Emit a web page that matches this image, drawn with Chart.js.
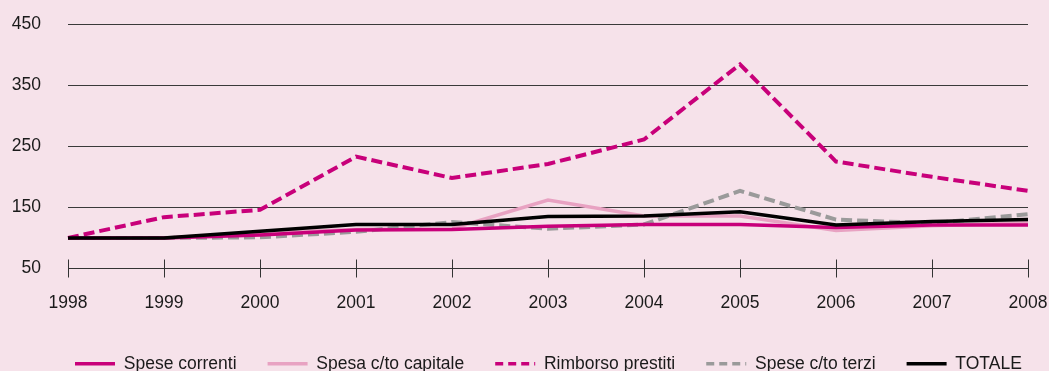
<!DOCTYPE html>
<html>
<head>
<meta charset="utf-8">
<script src="https://cdn.jsdelivr.net/npm/chart.js@4/dist/chart.umd.min.js"></script>
<style>
  html, body { margin: 0; padding: 0; background: #f6e2ea; }
  #wrap { width: 1049px; height: 371px; }
</style>
</head>
<body>
<div id="wrap"><canvas id="c" width="1049" height="371"></canvas></div>
<script>
const years = ['1998','1999','2000','2001','2002','2003','2004','2005','2006','2007','2008'];
const speseCorrenti   = [100, 100, 105, 113, 114, 119, 122, 122, 117, 121, 121];
const spesaCapitale   = [100, 100, 108, 114, 115, 162, 136, 136, 112, 120, 125];
const rimborsoPrestiti= [100, 134, 146, 233, 198, 221, 261, 384, 225, 200, 177];
const speseTerzi      = [100, 100, 101, 110, 126, 115, 122, 177, 130, 124, 139];
const totale          = [100, 100, 111, 122, 122, 135, 136, 143, 121, 127, 130];
const yTicks = [50, 150, 250, 350, 450];

const FONT = "'Liberation Sans', Arial, sans-serif";
const FSIZE = 17.5;

const bgPlugin = {
  id: 'bg',
  beforeDraw(chart) {
    const ctx = chart.ctx;
    ctx.save();
    ctx.fillStyle = '#f6e2ea';
    ctx.fillRect(0, 0, chart.width, chart.height);
    ctx.restore();
  }
};

const tickPlugin = {
  id: 'xticks',
  afterDraw(chart) {
    const xs = chart.scales.x, ys = chart.scales.y;
    const ctx = chart.ctx;
    const y0 = ys.getPixelForValue(50);
    ctx.save();
    ctx.strokeStyle = '#333';
    ctx.lineWidth = 1;
    ctx.beginPath();
    for (let i = 0; i < xs.ticks.length; i++) {
      const x = Math.round(xs.getPixelForTick(i)) + 0.5;
      ctx.moveTo(x, y0 - 9);
      ctx.lineTo(x, y0 + 9);
    }
    ctx.stroke();
    ctx.restore();
  }
};

const legendShift = {
  id: 'legendShift',
  afterLayout(chart) {
    const lg = chart.legend;
    const x0 = lg.left + lg.options.labels.padding;
    const cur = (x0 + lg.right - lg.lineWidths[0]) / 2;
    const dx = 75 - cur;
    lg.left += dx; lg.right += dx;
    const itemTop = lg.top + lg.options.labels.padding;
    const dy = 355 - itemTop;
    lg.top += dy; lg.bottom += dy;
  }
};

const mk = (label, data, color, width, dash, order) => ({
  label, data, borderColor: color, backgroundColor: color,
  borderWidth: width, borderDash: dash, pointRadius: 0, pointHoverRadius: 0,
  tension: 0, fill: false, order
});

new Chart(document.getElementById('c'), {
  type: 'line',
  data: {
    labels: years,
    datasets: [
      mk('Spese correnti', speseCorrenti, '#c8007a', 3.5, [], 1),
      mk('Spesa c/to capitale', spesaCapitale, '#e8a2c2', 3.5, [], 4),
      mk('Rimborso prestiti', rimborsoPrestiti, '#c8007a', 4, [11, 5], 2),
      mk('Spese c/to terzi', speseTerzi, '#9a9a9a', 4, [11, 5], 3),
      mk('TOTALE', totale, '#000000', 3.5, [], 0)
    ]
  },
  options: {
    responsive: false,
    animation: false,
    devicePixelRatio: 1,
    layout: { padding: { top: 24, right: 0, left: 0, bottom: 0 } },
    plugins: {
      title: { display: false },
      tooltip: { enabled: false },
      legend: {
        display: true,
        position: 'bottom',
        labels: {
          usePointStyle: true,
          pointStyle: 'line',
          pointStyleWidth: 40,
          boxWidth: 40,
          boxHeight: FSIZE,
          padding: 31,
          color: '#1a1a1a',
          font: { family: FONT, size: FSIZE },
          sort: (a, b) => a.datasetIndex - b.datasetIndex,
          generateLabels(chart) {
            return chart.data.datasets.map((ds, i) => ({
              text: ds.label,
              datasetIndex: i,
              fillStyle: ds.borderColor,
              strokeStyle: ds.borderColor,
              lineWidth: 3.7,
              lineDash: ds.borderDash.length ? [8, 5] : [],
              lineCap: 'butt',
              pointStyle: 'line',
              hidden: false,
              fontColor: '#1a1a1a'
            }));
          }
        }
      }
    },
    scales: {
      x: {
        type: 'category',
        offset: false,
        grid: { drawOnChartArea: false, drawTicks: false },
        border: { display: true, color: '#333', width: 1 },
        ticks: { color: '#1a1a1a', font: { family: FONT, size: FSIZE }, padding: 24, maxRotation: 0, autoSkip: false },
        afterFit(s) { s.height = 44; s.paddingRight = 21; s.paddingLeft = 0; }
      },
      y: {
        min: 50, max: 450,
        afterBuildTicks(s) { s.ticks = yTicks.map(v => ({ value: v })); },
        grid: {
          drawTicks: false,
          color: ctx => (ctx.tick && ctx.tick.value === 50) ? 'rgba(0,0,0,0)' : '#3a3a3a',
          lineWidth: 1
        },
        border: { display: false },
        ticks: { color: '#1a1a1a', font: { family: FONT, size: FSIZE }, padding: 27 },
        afterFit(s) { s.width = 68; s.paddingTop = 0; s.paddingBottom = 0; }
      }
    }
  },
  plugins: [bgPlugin, tickPlugin, legendShift]
});
</script>
</body>
</html>
